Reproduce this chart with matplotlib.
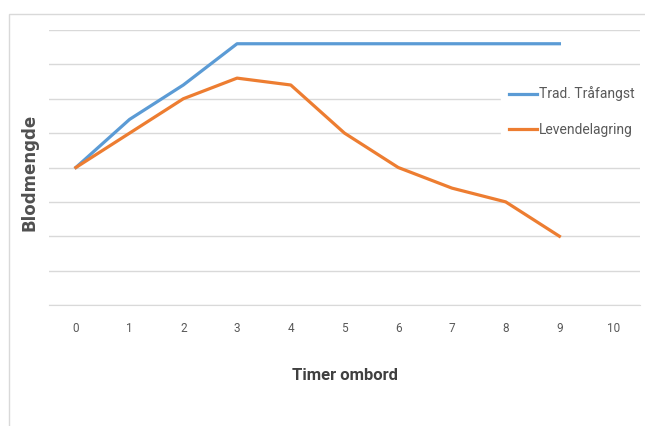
import matplotlib.pyplot as plt
from matplotlib.patches import Rectangle

# data
timer = [0, 1, 2, 3, 4, 5, 6, 7, 8, 9]
trad = [4, 5.4, 6.4, 7.6, 7.6, 7.6, 7.6, 7.6, 7.6, 7.6]
levende = [4, 5, 6, 6.6, 6.4, 5, 4, 3.4, 3, 2]
kategorier = [str(i) for i in range(11)]

plt.rcParams['font.family'] = ['Liberation Sans Narrow', 'Roboto', 'DejaVu Sans']

fig = plt.figure(figsize=(6.45, 4.26), dpi=100)
W, H = 645, 426

# chart-area frame
fig.patches.append(Rectangle((9 / W, -0.05), 1.0, (426 - 14) / H + 0.05,
                             transform=fig.transFigure, fill=False,
                             edgecolor='#D9D9D9', linewidth=1))

ax = fig.add_axes([49 / W, 1 - 305 / H, (640 - 49) / W, (305 - 30) / H])
ax.plot(timer, trad, color='#5B9BD5', linewidth=2.3, label='Trad. Tråfangst')
ax.plot(timer, levende, color='#ED7D31', linewidth=2.3, label='Levendelagring')

ax.set_xlim(-0.5, 10.5)
ax.set_ylim(0, 8)
ax.set_xticks(range(11))
ax.set_xticklabels(kategorier, color='#595959', fontsize=8.5)
ax.set_yticks(range(9))
ax.set_yticklabels([])
ax.tick_params(length=0, pad=12)
ax.grid(axis='y', color='#D9D9D9', linewidth=1)
ax.set_axisbelow(True)
for s in ax.spines.values():
    s.set_visible(False)
ax.spines['bottom'].set_visible(True)
ax.spines['bottom'].set_color('#D9D9D9')

ax.set_xlabel('Timer ombord', fontsize=12, fontweight='bold', color='#404040', labelpad=24)
fig.text(30 / W, 1 - 172 / H, 'Blodmengde', rotation=90, ha='center', va='center',
         fontsize=12, fontweight='bold', color='#505050', family='DejaVu Sans')

leg = ax.legend(loc='upper left', bbox_to_anchor=(0.765, 0.825), frameon=True,
                edgecolor='white', facecolor='white', framealpha=1, fancybox=False,
                fontsize=10, labelspacing=1.55, handlelength=2.0, handletextpad=0.15,
                borderpad=0.6, borderaxespad=0)
for t in leg.get_texts():
    t.set_color('#595959')

fig.savefig('out.png', dpi=100)
